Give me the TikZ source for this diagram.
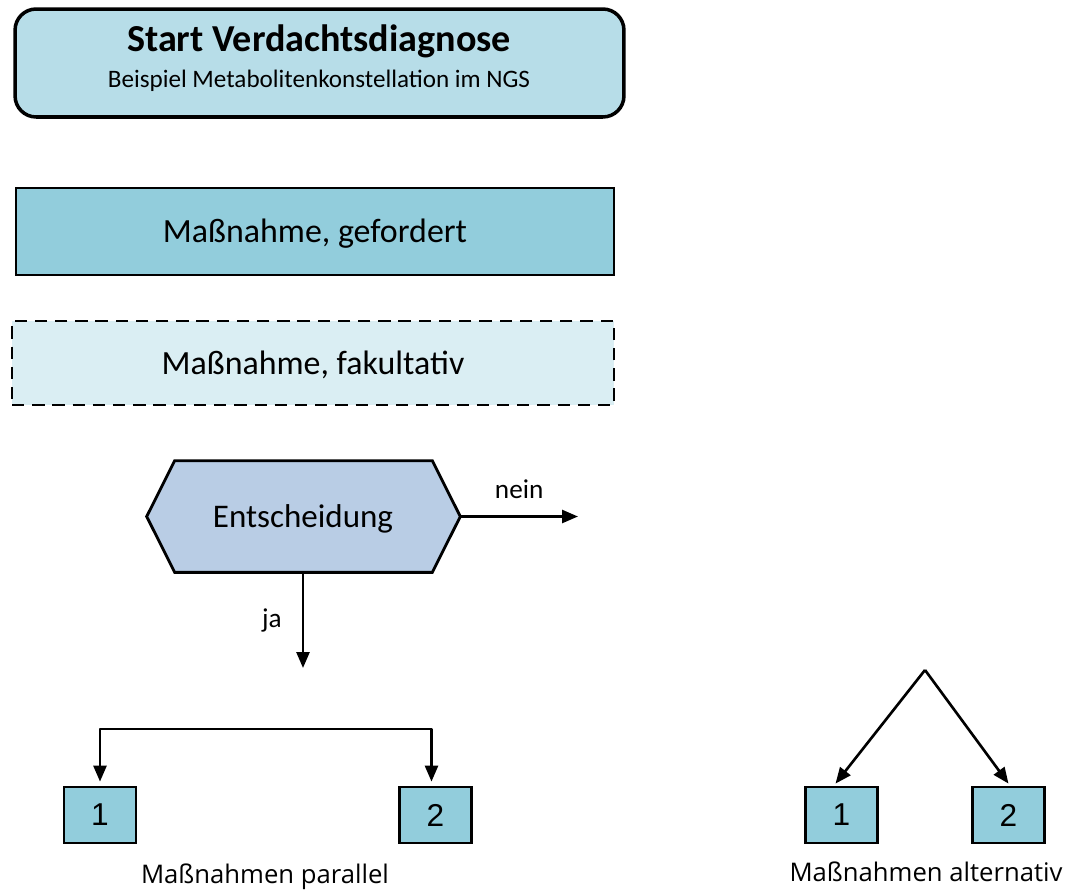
\documentclass[tikz,border=0pt]{standalone}
\usepackage{fontspec}
\setmainfont{Carlito}
\newfontfamily\labelfont{Open Sans}
\newfontfamily\digitfont{Liberation Sans}
\usepackage{tikz}
\usetikzlibrary{arrows.meta,calc,positioning}

\definecolor{startblue}{HTML}{B7DDE8}
\definecolor{reqblue}{HTML}{92CDDC}
\definecolor{optblue}{HTML}{DAEEF3}
\definecolor{decblue}{HTML}{B9CDE5}

\tikzset{
  startbox/.style={draw,line width=2pt,rounded corners=12pt,fill=startblue,align=center,inner sep=0pt},
  reqbox/.style={draw,line width=1.6pt,fill=reqblue,inner sep=0pt},
  optbox/.style={draw,line width=1.6pt,dashed,dash pattern=on 7pt off 4.5pt,fill=optblue,inner sep=0pt},
  boxtext/.style={font=\fontsize{19.3}{21}\selectfont},
  numbox/.style={draw,line width=1.6pt,fill=reqblue,inner sep=0pt,minimum width=1.44cm,minimum height=1.12cm,font=\digitfont\fontsize{18}{20}\selectfont},
  flow/.style={line width=1.5pt,-{Triangle[length=3.2mm,width=2.6mm]}},
  caption/.style={font=\labelfont\fontsize{14.6}{16}\selectfont},
}

\begin{document}
\begin{tikzpicture}[x=0.02cm,y=-0.02cm]
\useasboundingbox (0,0) rectangle (1068,890);
% legend boxes
\node [startbox,minimum width=12.18cm,minimum height=2.16cm] (start) at (319.5,63) {};
\node (starttitle) at (319,41) {\fontsize{21.7}{24}\selectfont\bfseries Start Verdachtsdiagnose};
\node [below=0pt of starttitle] (startsub) {\fontsize{14.3}{16}\selectfont Beispiel Metabolitenkonstellation im NGS};
\node [reqbox,minimum width=11.96cm,minimum height=1.74cm] (req) at (315,231.5) {};
\node [boxtext] (reqtext) at (315,234) {Maßnahme, gefordert};
\node [optbox,minimum width=12.04cm,minimum height=1.68cm] (opt) at (313,363) {};
\node [boxtext] (opttext) at (313,365) {Maßnahme, fakultativ};
% decision
\node [minimum width=6.26cm,minimum height=2.22cm] (dec) at (303.5,516.5) {};
\draw [line width=1.6pt,fill=decblue] (dec.west) -- ($(dec.north west)+(28,0)$) -- ($(dec.north east)+(-28,0)$)
  -- (dec.east) -- ($(dec.south east)+(-28,0)$) -- ($(dec.south west)+(28,0)$) -- cycle;
\node [font=\fontsize{18.8}{20}\selectfont] (dectext) at (303,519) {Entscheidung};
\coordinate (nein) at (578,516.5);
\coordinate (ja) at (303,668);
\draw [flow] (dec.east) -- node [above=6pt,font=\fontsize{15.5}{17}\selectfont] {nein} (nein);
\draw [flow] (dec.south -| ja) -- node [left=8pt,font=\fontsize{15.5}{17}\selectfont] {ja} (ja);
% parallel
\node [numbox] (p1) at (100,815) {1};
\node [numbox] (p2) at (435.5,815) {2};
\coordinate (ptop) at (265,729);
\draw [flow,line join=round] (ptop) -| ($(p1.north)+(0,-4)$);
\draw [flow,line join=round] (ptop) -| ($(p2.north)+(-4,-4)$);
\node [caption] (pcap) at (265,877) {Maßnahmen parallel};
% alternativ
\node [numbox] (a1) at (841.5,815) {1};
\node [numbox] (a2) at (1008.5,815) {2};
\coordinate (atop) at (925,670);
\draw [flow] (atop) -- ($(a1.north)+(-6,-2)$);
\draw [flow] (atop) -- ($(a2.north)+(0,-2)$);
\node [caption] (acap) at (926,872) {Maßnahmen alternativ};
\end{tikzpicture}
\end{document}
